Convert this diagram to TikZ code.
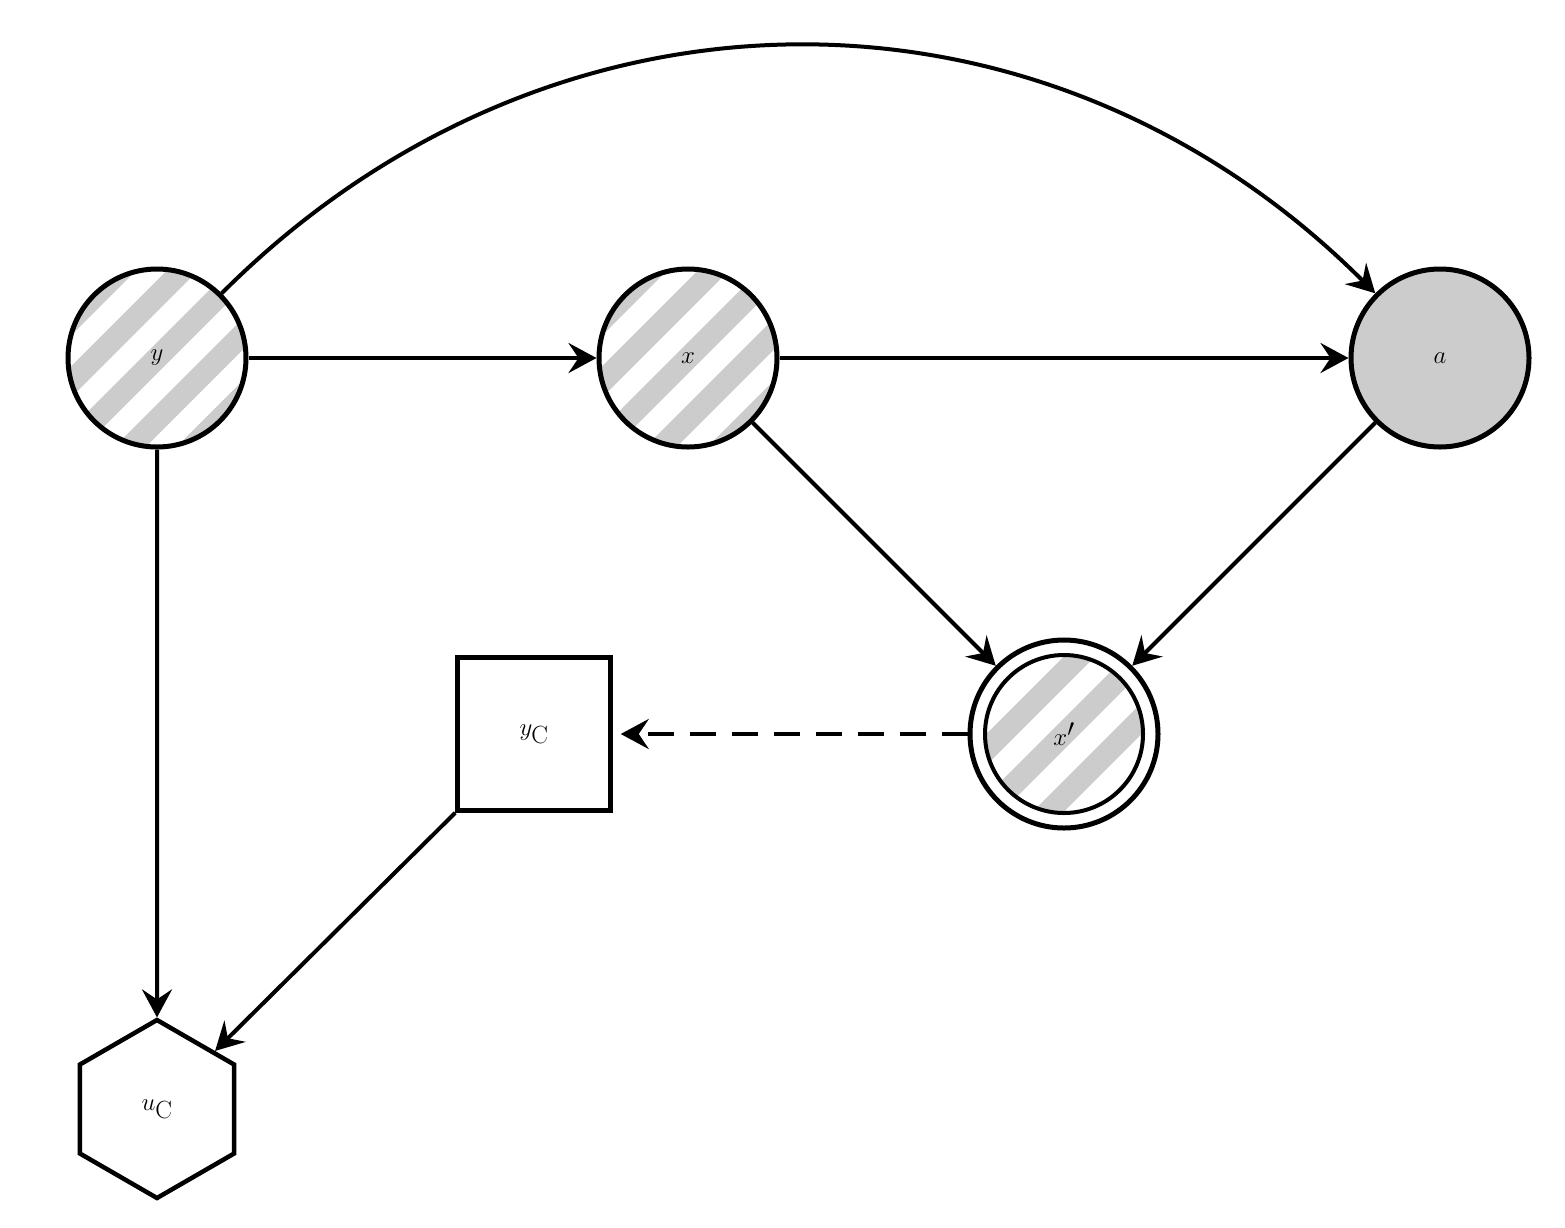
\documentclass[tikz,border=0pt]{standalone}
\usetikzlibrary{arrows.meta,shapes.geometric}
\definecolor{sh}{HTML}{CCCCCC}
\tikzset{
  base/.style={draw,line width=5pt,inner sep=0pt,font=\fontsize{46}{50}\selectfont},
  striped/.style={base,circle,minimum size=178pt,fill=white,
    path picture={\foreach \k in {-8,...,8}{
      \draw[sh,line width=22pt] ([shift={(\k*31pt,-\k*31pt)}]path picture bounding box.center) ++(-150pt,-150pt) -- ++(300pt,300pt);}}},
  arr/.style={line width=4pt,-{Stealth[length=28pt,width=30pt,inset=10pt]}}
}
\begin{document}
\begin{tikzpicture}[x=1pt,y=-1pt]
\useasboundingbox (0,0) rectangle (1565,1227);
\node[striped] (y) at (157,358) {$y$};
\node[striped] (x) at (688,358) {$x$};
\node[base,circle,minimum size=178pt,fill=sh] (a) at (1440,358) {$a$};
\node[base,circle,minimum size=188pt,fill=white] (xpo) at (1064,734) {};
\node[striped,minimum size=158pt,line width=4pt] (xp) at (1064,734) {$x'$};
\node[base,rectangle,minimum size=153pt,line width=4.5pt] (yc) at (534,734) {$y_{\mathrm{C}}$};
\node[base,regular polygon,regular polygon sides=6,shape border rotate=90,minimum size=178pt,line width=4.5pt] (uc) at (157,1109) {$u_{\mathrm{C}}$};
\draw[arr] (y) -- (x);
\draw[arr] (x) -- (a);
\draw[arr] (y) -- (uc);
\draw[arr] (x) -- (xpo);
\draw[arr] (a) -- (xpo);
\draw[arr] (yc.south west) -- (uc.north east);
\draw[arr,dash pattern=on 26pt off 16pt] (xpo) -- ([xshift=8pt]yc.east);
\draw[arr] (y.45) .. controls +(330,-330) and +(-330,-330) .. (a.135);
\end{tikzpicture}
\end{document}
